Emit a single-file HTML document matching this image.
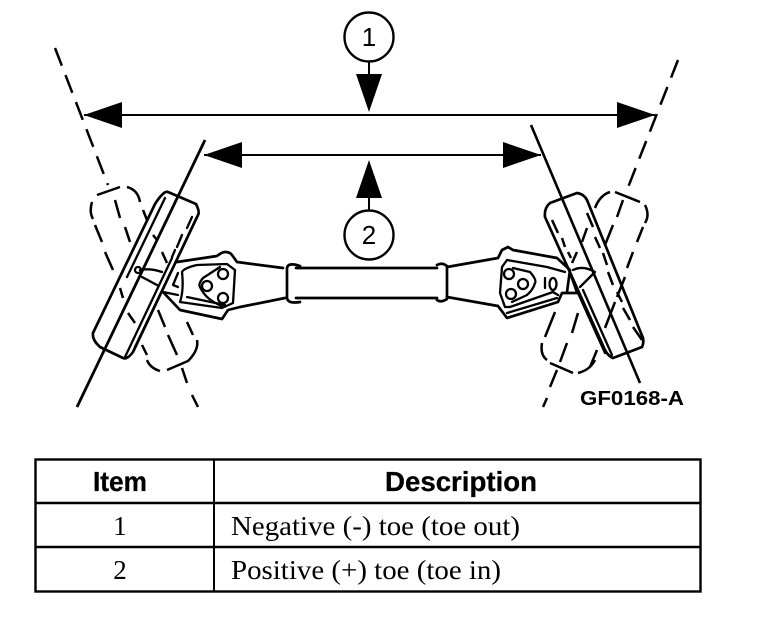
<!DOCTYPE html>
<html>
<head>
<meta charset="utf-8">
<style>
html,body{margin:0;padding:0;background:#fff;width:768px;height:634px;overflow:hidden}
svg{display:block}
.s{fill:none;stroke:#000;stroke-width:2.7;stroke-linejoin:round;stroke-linecap:round}
.t{fill:none;stroke:#000;stroke-width:2.3;stroke-linejoin:round;stroke-linecap:round}
.d{fill:none;stroke:#000;stroke-width:2.5}
.w{fill:#fff;stroke:#000;stroke-width:2.4}
.h{font-family:"Liberation Sans",sans-serif;font-weight:bold;font-size:27.5px;stroke:#000;stroke-width:.3}
.c{font-family:"Liberation Serif",serif;font-size:27px}
</style>
</head>
<body>
<svg width="768" height="634" viewBox="0 0 768 634" xmlns="http://www.w3.org/2000/svg">
<!-- axes above the tires -->
<path class="d" stroke-dasharray="19 10" d="M55 48 L108 185"/>
<path class="d" d="M115 200L120 218M125 227L130 242"/>
<path class="d" stroke-dasharray="19 10" d="M678 60 L627 190"/>
<path class="d" d="M623 200L617 217M613 225L605 245"/>

<!-- left solid tire -->
<path class="s" fill="none" d="M155 204 Q164 190 168 192 L196 204 Q200 212 198 215 L133 352 Q127 360 123 358 L100 347 Q92 340 93 333 Z"/>
<path class="t" d="M165 198 L127 277 M172 258 L125 357 M160 295 L135 347"/>
<path class="t" d="M192 217L187 228M182 235L177 247M175 250L172 257"/>
<circle class="t" cx="138" cy="270" r="3"/>
<path class="t" d="M140 270 Q150 268 162 272 M142 277 L157 285"/>

<!-- left dashed tire -->
<path class="d" d="M97 195L120 187M127 187Q138 190 140 202M143 210L147 220M153 235L157 240M162 252L167 263
M92 202Q89 212 93 219M95 225L102 242M105 252L113 270M120 288L123 298M128 313L135 323M142 345L147 355
M187 322L193 335M197 340Q199 350 188 361L167 370M160 371Q150 368 147 360"/>
<path class="d" d="M158 310L165 327M168 335L177 355M182 368L187 383M192 395L198 407"/>

<!-- right solid tire -->
<path class="s" fill="none" d="M545 217 Q544 208 550 203 L577 193 Q584 194 587 200 L643 338 Q644 343 642 347 L613 358 Q608 356 605 350 Z"/>
<path class="t" d="M578 293 L605 353 M583 290 L612 355"/>
<path class="d" d="M552 220L558 233M562 238L565 247M568 252L571 258
M587 213L593 227M595 237L600 248M603 253L607 265M608 272L613 285M617 292L622 302M623 308L630 320M633 327L642 340"/>

<!-- right dashed tire -->
<path class="d" d="M595 208Q600 195 610 192M615 192L640 202M645 205Q650 215 645 223M643 227L637 242M633 252L627 268M625 277L617 297M615 302L605 328M597 350L590 367
M587 228L582 242M577 252L572 263
M555 312L545 337M542 343Q540 355 547 360M550 363L573 373M578 373Q590 370 595 360"/>
<path class="d" d="M578 313L572 333M567 343L560 362M557 370L550 387M547 398L543 407"/>

<!-- solid axes -->
<line x1="205" y1="140" x2="77" y2="407" stroke="#000" stroke-width="2.8"/>
<line x1="531" y1="125" x2="640" y2="383" stroke="#000" stroke-width="2.6"/>

<!-- dimension lines -->
<line x1="84" y1="115" x2="655" y2="115" stroke="#000" stroke-width="2"/>
<line x1="204" y1="155" x2="541" y2="155" stroke="#000" stroke-width="2"/>
<path d="M84 115 L122 102 L122 128Z M655 115 L617 102 L617 128Z M204 155 L242 142 L242 168Z M541 155 L503 142 L503 168Z"/>
<path d="M356 74 L382 74 L369 112Z M356 198 L382 198 L369 160Z"/>
<line x1="369" y1="60" x2="369" y2="76" stroke="#000" stroke-width="2"/>
<line x1="369" y1="196" x2="369" y2="212" stroke="#000" stroke-width="2"/>
<circle class="w" cx="369" cy="37" r="24.5"/>
<circle class="w" cx="369" cy="235" r="24.5"/>
<text x="369" y="46" text-anchor="middle" font-family="Liberation Sans,sans-serif" font-size="26">1</text>
<text x="369" y="244" text-anchor="middle" font-family="Liberation Sans,sans-serif" font-size="26">2</text>

<!-- axle -->
<path class="s" d="M296 268 L437 268 M296 298 L437 298"/>
<path class="s" d="M300 266 Q288 262 287 268 L287 298 Q288 304 300 302"/>
<path class="s" d="M437 300 Q441 303 447 299 L447 266 Q442 262 437 265"/>

<!-- left knuckle -->
<path class="s" d="M177 262 L217 256 Q222 252 225 252 Q230 252 232 255 L237 262 L283 268"/>
<path class="s" d="M163 292 L180 310 L222 319 L228 310 L240 307 L285 298"/>
<path class="t" d="M182 272 Q184 268 197 265 L227 264 L235 270 L233 303 L222 308 L180 302 Q184 290 182 272"/>
<path class="t" d="M187 297 L225 305 M203 278 Q198 284 200 287 Q206 300 222 306 M203 278 L220 267"/>
<path class="t" d="M178 273 L173 285 L178 287 M163 292 L178 295"/>
<circle class="t" cx="223" cy="274" r="5"/>
<circle class="t" cx="207" cy="286" r="5"/>
<circle class="t" cx="223" cy="298" r="5"/>

<!-- right knuckle -->
<path class="s" d="M447 267 L498 258 L502 250 L508 247 L513 250 L557 258 L570 270 L567 292"/>
<path class="s" d="M447 297 L498 306 L507 318 L558 302 L562 293 L577 293"/>
<path class="t" d="M565 272 L547 267 L507 260 L502 267 L500 293 L505 307 L510 307 L553 292 L558 295"/>
<path class="t" d="M507 313 L557 298 M513 268 L530 272 Q537 280 535 283 Q533 290 527 295 L512 302"/>
<circle class="t" cx="509" cy="274" r="5"/>
<circle class="t" cx="523" cy="284" r="5"/>
<circle class="t" cx="511" cy="294" r="5"/>
<path class="t" d="M545 278 L545 288"/>
<ellipse class="t" cx="553" cy="284" rx="3.5" ry="6"/>
<path class="t" d="M573 270 Q583 265 595 272 L580 287 M570 273 L577 293"/>

<!-- code -->
<text x="580" y="405" font-family="Liberation Sans,sans-serif" font-weight="bold" font-size="20.5" textLength="104" lengthAdjust="spacingAndGlyphs">GF0168-A</text>

<!-- table -->
<rect x="35.5" y="459.5" width="665" height="132" fill="none" stroke="#000" stroke-width="2.4"/>
<line x1="214" y1="459" x2="214" y2="592" stroke="#000" stroke-width="2"/>
<line x1="35" y1="503" x2="701" y2="503" stroke="#000" stroke-width="2.4"/>
<line x1="35" y1="547" x2="701" y2="547" stroke="#000" stroke-width="2.4"/>
<text class="h" x="93" y="491" textLength="54" lengthAdjust="spacingAndGlyphs">Item</text>
<text class="h" x="385" y="491" textLength="152" lengthAdjust="spacingAndGlyphs">Description</text>
<text class="c" x="120" y="535" text-anchor="middle">1</text>
<text class="c" x="120" y="579" text-anchor="middle">2</text>
<text class="c" x="231" y="535" textLength="289" lengthAdjust="spacingAndGlyphs">Negative (-) toe (toe out)</text>
<text class="c" x="231" y="579" textLength="270" lengthAdjust="spacingAndGlyphs">Positive (+) toe (toe in)</text>
</svg>
</body>
</html>
